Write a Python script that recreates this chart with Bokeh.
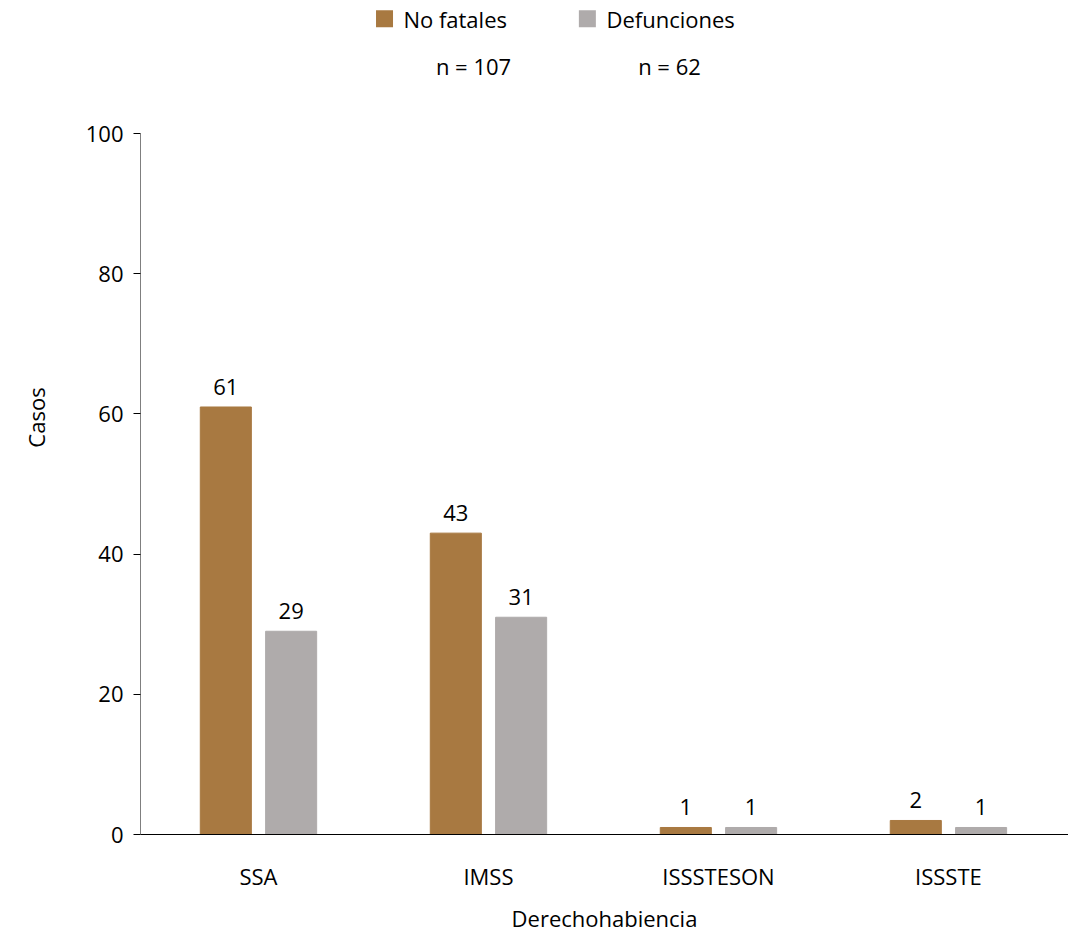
from bokeh.plotting import figure
from bokeh.models import ColumnDataSource, FixedTicker
from bokeh.core.properties import value
from bokeh.embed import file_html
from bokeh.resources import INLINE

categories = ["SSA", "IMSS", "ISSSTESON", "ISSSTE"]
no_fatales = [61, 43, 1, 2]
defunciones = [29, 31, 1, 1]
series_names = ["No fatales", "Defunciones"]
series_n = ["n = 107", "n = 62"]

BROWN = "#A87941"
GRAY = "#AFABAB"
FONT = "Open Sans"

p = figure(frame_width=928, frame_height=834, output_backend="svg", toolbar_location=None,
           x_range=(-0.513, 3.522), y_range=(0, 119.0),
           min_border_left=140, min_border_right=0, min_border_top=0, min_border_bottom=90)
p.outline_line_color = None
p.grid.grid_line_color = None

xs = list(range(len(categories)))
off = 0.142
w = 0.222
src = ColumnDataSource(dict(
    xa=[x - off for x in xs], xb=[x + off for x in xs],
    a=no_fatales, b=defunciones,
    la=[str(v) for v in no_fatales], lb=[str(v) for v in defunciones]))
p.vbar(x="xa", top="a", width=w, color=BROWN, source=src)
p.vbar(x="xb", top="b", width=w, color=GRAY, source=src)
for xcol, ycol, lcol in (("xa", "a", "la"), ("xb", "b", "lb")):
    p.text(x=xcol, y=ycol, text=lcol, source=src, y_offset=-12,
           text_align="center", text_baseline="bottom",
           text_font=value(FONT), text_font_size="22px", text_color="black")

# y axis line only up to 100
p.segment(x0=[-0.513], y0=[0], x1=[-0.513], y1=[100], line_color="black", line_width=1)

p.yaxis.ticker = FixedTicker(ticks=[0, 20, 40, 60, 80, 100])
p.yaxis.major_tick_in = 0
p.yaxis.major_tick_out = 7
p.yaxis.major_label_standoff = 10
p.yaxis.minor_tick_line_color = None
p.yaxis.axis_label = "Casos"
p.xaxis.ticker = FixedTicker(ticks=xs)
p.xaxis.major_label_overrides = {i: c for i, c in enumerate(categories)}
p.xaxis.major_tick_line_color = None
p.xaxis.minor_tick_line_color = None
p.xaxis.axis_label = "Derechohabiencia"
for ax in (p.xaxis, p.yaxis):
    ax.major_label_text_font = FONT
    ax.major_label_text_font_size = "22px"
    ax.major_label_text_color = "black"
    ax.axis_label_text_font = FONT
    ax.axis_label_text_font_size = "22px"
    ax.axis_label_text_font_style = "normal"
    ax.axis_label_text_color = "black"
p.yaxis.axis_line_color = None
p.xaxis.axis_line_color = "black"
p.xaxis.major_label_standoff = 20
p.xaxis.axis_label_standoff = 9
p.yaxis.axis_label_standoff = 32

# legend header
p.scatter(x=[0.548, 1.43], y=[116.4, 116.4], marker="square", size=17,
          color=[BROWN, GRAY], line_color=None)
p.text(x=[0.63, 1.513], y=[116.4, 116.4], text=series_names, text_baseline="middle",
       text_font=value(FONT), text_font_size="22px", text_color="black")
p.text(x=[0.935, 1.787], y=[109.6, 109.6], text=series_n, text_baseline="middle",
       text_align="center", text_font=value(FONT), text_font_size="22px", text_color="black")

open("out.html", "w").write(file_html(p, INLINE))
